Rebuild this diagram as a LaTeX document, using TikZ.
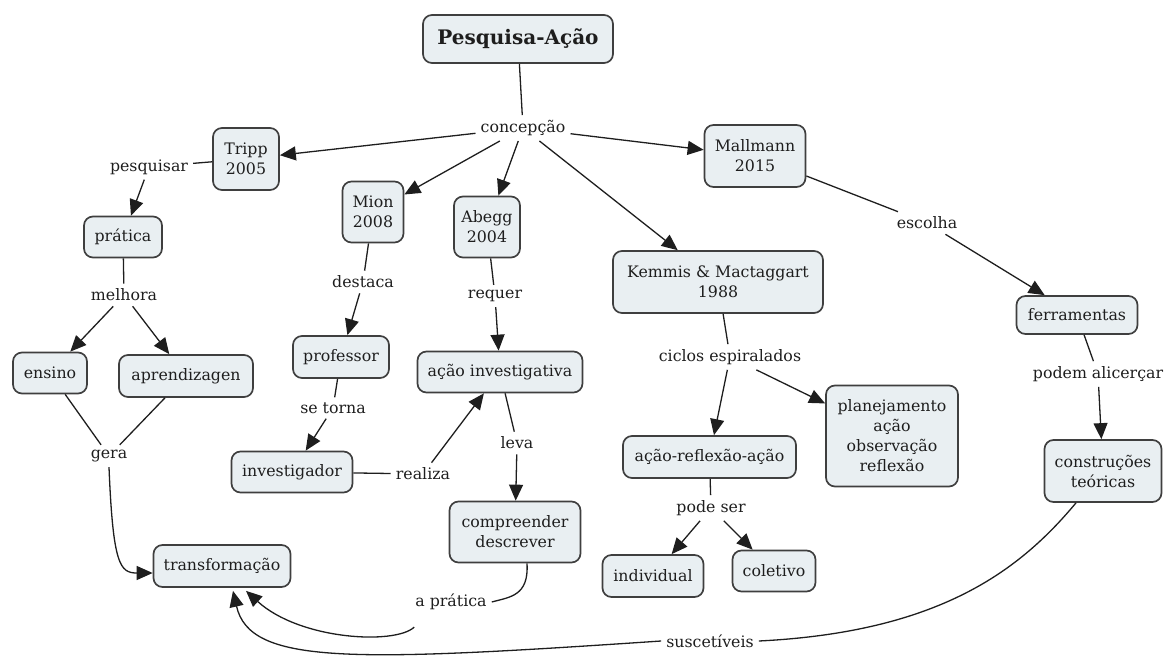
\documentclass[tikz,border=0pt]{standalone}
\usepackage{fontspec}
\setmainfont{DejaVu Serif}
\usetikzlibrary{arrows.meta}
\definecolor{boxfill}{HTML}{E9EFF2}
\definecolor{boxline}{HTML}{3F3F3F}
\definecolor{ink}{HTML}{1E1E1E}
\begin{document}
\begin{tikzpicture}[x=1pt,y=-1pt,
  concept/.style={draw=boxline, fill=boxfill, line width=1.7pt, rounded corners=9pt,
    align=center, inner sep=0pt, text=ink, font=\fontsize{15.8}{20}\selectfont},
  link/.style={inner sep=5pt, text=ink, font=\fontsize{15.8}{20}\selectfont},
  conn/.style={line width=1.3pt, draw=ink},
  arr/.style={conn, -{Triangle[length=16pt,width=14pt]}}]
\useasboundingbox (0,0) rectangle (1164,660);

% concepts
\node[concept, minimum width=190pt, minimum height=48pt, font=\fontsize{20}{24}\selectfont\bfseries] (title) at (518,39) {Pesquisa-Ação};
\node[concept, minimum width=66pt, minimum height=62pt] (tripp) at (246,159) {Tripp\\2005};
\node[concept, minimum width=101pt, minimum height=62pt] (mallmann) at (755,156) {Mallmann\\2015};
\node[concept, minimum width=61pt, minimum height=61pt] (mion) at (373,212) {Mion\\2008};
\node[concept, minimum width=66pt, minimum height=61pt] (abegg) at (487,227) {Abegg\\2004};
\node[concept, minimum width=210pt, minimum height=62pt] (kemmis) at (718,282) {Kemmis \& Mactaggart\\1988};
\node[concept, minimum width=78pt, minimum height=41pt] (pratica) at (123,237) {prática};
\node[concept, minimum width=74pt, minimum height=41pt] (ensino) at (50,373) {ensino};
\node[concept, minimum width=134pt, minimum height=42pt] (aprend) at (186,376) {aprendizagen};
\node[concept, minimum width=96pt, minimum height=42pt] (professor) at (341,357) {professor};
\node[concept, minimum width=165pt, minimum height=41pt] (acaoinv) at (500,372) {ação investigativa};
\node[concept, minimum width=121pt, minimum height=41pt] (investigador) at (292,472) {investigador};
\node[concept, minimum width=131pt, minimum height=61pt] (compr) at (515,532) {compreender\\descrever};
\node[concept, minimum width=137pt, minimum height=42pt] (transf) at (222,566) {transformação};
\node[concept, minimum width=121pt, minimum height=38pt] (ferramentas) at (1077,315) {ferramentas};
\node[concept, minimum width=117pt, minimum height=62pt] (constr) at (1103,471) {construções\\teóricas};
\node[concept, minimum width=132pt, minimum height=101pt] (planej) at (892,436) {planejamento\\ação\\observação\\reflexão};
\node[concept, minimum width=173pt, minimum height=42pt] (acaoref) at (709.5,457) {ação-reflexão-ação};
\node[concept, minimum width=101pt, minimum height=42pt] (individual) at (653,576) {individual};
\node[concept, minimum width=83pt, minimum height=41pt] (coletivo) at (774,571) {coletivo};

% linking phrases
\node[link] (concepcao) at (523,128) {concepção};
\node[link] (pesquisar) at (149,167) {pesquisar};
\node[link] (melhora) at (124,295) {melhora};
\node[link] (gera) at (109,456) {gera};
\node[link] (destaca) at (363,282) {destaca};
\node[link] (requer) at (495,296) {requer};
\node[link] (setorna) at (333,408) {se torna};
\node[link] (realiza) at (423,474) {realiza};
\node[link] (leva) at (517,443) {leva};
\node[link] (aprat) at (451,602) {a prática};
\node[link] (ciclos) at (730,357) {ciclos espiralados};
\node[link] (podeser) at (711,508) {pode ser};
\node[link] (susc) at (710,641) {suscetíveis};
\node[link] (escolha) at (927,223) {escolha};
\node[link] (alicercar) at (1098,374) {podem alicerçar};

% connectors
\draw[conn] (title) -- (concepcao);
\draw[arr] (concepcao) -- (tripp);
\draw[arr] (concepcao) -- (mion);
\draw[arr] (concepcao) -- (abegg);
\draw[arr] (concepcao) -- (kemmis);
\draw[arr] (concepcao) -- (mallmann);

\draw[conn] (tripp) -- (pesquisar);
\draw[arr] (pesquisar) -- (pratica);
\draw[conn] (pratica) -- (melhora);
\draw[arr] (melhora) -- (ensino);
\draw[arr] (melhora) -- (aprend);
\draw[conn] (ensino) -- (gera);
\draw[conn] (aprend) -- (gera);
\draw[arr] (gera.south) .. controls (113,565) and (120,573) .. ([yshift=-7pt]transf.west);

\draw[conn] (mion) -- (destaca);
\draw[arr] (destaca) -- (professor);
\draw[conn] (professor) -- (setorna);
\draw[arr] (setorna) -- (investigador);
\draw[conn] (investigador) -- (realiza);
\draw[arr] (realiza) -- (acaoinv);

\draw[conn] (abegg) -- (requer);
\draw[arr] (requer) -- (acaoinv);
\draw[conn] (acaoinv) -- (leva);
\draw[arr] (leva) -- (compr);
\draw[conn] ([xshift=12pt]compr.south) .. controls (529,596) and (510,597) .. (aprat.east);
\draw[arr] ([xshift=4pt,yshift=-12pt]aprat.south west) .. controls (395,645) and (300,640) .. ([xshift=24pt,yshift=-3pt]transf.south);

\draw[conn] (kemmis) -- (ciclos);
\draw[arr] (ciclos) -- (acaoref);
\draw[arr] (ciclos) -- (planej);
\draw[conn] (acaoref) -- (podeser);
\draw[arr] (podeser) -- (individual);
\draw[arr] (podeser) -- (coletivo);

\draw[conn] (mallmann) -- (escolha);
\draw[arr] (escolha) -- (ferramentas);
\draw[conn] (ferramentas) -- (alicercar);
\draw[arr] (alicercar) -- (constr);
\draw[conn] ([xshift=-27pt]constr.south) .. controls (1020,570) and (940,632) .. (susc.east);
\draw[arr] (susc.west) .. controls (350,662) and (250,665) .. ([xshift=11pt,yshift=-3pt]transf.south);
\end{tikzpicture}
\end{document}
